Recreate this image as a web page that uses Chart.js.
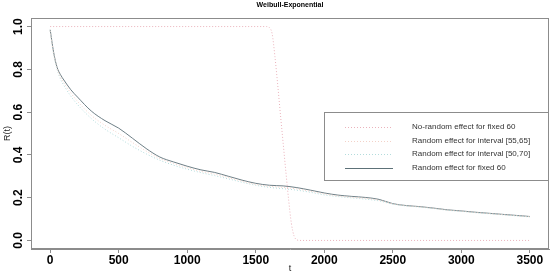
<!DOCTYPE html>
<html>
<head>
<meta charset="utf-8">
<script src="https://cdn.jsdelivr.net/npm/chart.js@4.4.1/dist/chart.umd.min.js"></script>
<style>
html,body{margin:0;padding:0;background:#fff;}
canvas{display:block;}
</style>
</head>
<body>
<canvas id="c" width="550" height="274"></canvas>
<script>
const chartTitle = "Weibull-Exponential";
const xTicks = [0, 500, 1000, 1500, 2000, 2500, 3000, 3500];
const yTicks = [0, 0.2, 0.4, 0.6, 0.8, 1.0];

// time grid for the random-effect curves
const tGrid = [0,25,50,75,100,150,200,300,400,500,600,700,800,900,1000,1100,1200,1300,1400,1500,1600,1700,1800,1900,2000,2100,2200,2300,2400,2500,2600,2700,2800,2900,3000,3100,3200,3300,3400,3500];

const fixed60 = [0.985,0.88,0.81,0.775,0.75,0.705,0.67,0.605,0.56,0.525,0.478,0.43,0.39,0.367,0.347,0.33,0.318,0.30,0.282,0.267,0.258,0.255,0.247,0.235,0.222,0.212,0.206,0.201,0.192,0.172,0.163,0.158,0.151,0.143,0.138,0.132,0.127,0.122,0.117,0.112];
const interval5565 = [0.98,0.875,0.805,0.765,0.737,0.69,0.65,0.585,0.538,0.50,0.458,0.418,0.383,0.36,0.34,0.323,0.31,0.294,0.277,0.262,0.253,0.248,0.241,0.23,0.218,0.208,0.202,0.197,0.188,0.171,0.162,0.157,0.150,0.142,0.137,0.131,0.126,0.121,0.116,0.111];
const interval5070 = [0.98,0.87,0.80,0.755,0.725,0.675,0.635,0.57,0.52,0.48,0.44,0.405,0.375,0.352,0.333,0.317,0.303,0.288,0.272,0.258,0.248,0.242,0.235,0.225,0.213,0.205,0.199,0.193,0.185,0.170,0.161,0.156,0.149,0.141,0.136,0.130,0.125,0.120,0.115,0.110];

// no-random-effect curve (own time grid)
const tNoRandom = [0,500,1000,1500,1580,1600,1620,1640,1660,1680,1700,1720,1740,1760,1780,1800,1820,2000,2500,3000,3500];
const noRandom60 = [1.0,1.0,1.0,1.0,1.0,0.995,0.965,0.86,0.73,0.59,0.455,0.32,0.19,0.08,0.02,0.003,0,0,0,0,0];

const seriesLabels = ["No-random effect for fixed 60","Random effect for interval [55,65]","Random effect for interval [50,70]","Random effect for fixed 60"];
const seriesColors = ["#eab2bb","#f3d2c8","#b3dcdc","#5d7178"];
const seriesDash = [[1,2],[1,2],[1,2],[]];

function pts(xs, ys){ return xs.map((x,i)=>({x:x,y:ys[i]})); }

const frame = {
  id:'frame',
  afterDraw(chart){
    const {ctx, chartArea:a} = chart;
    ctx.save();
    ctx.strokeStyle = '#8c8c8c';
    ctx.lineWidth = 1;
    ctx.strokeRect(a.left+0.5, a.top+0.5, a.right-a.left-1, a.bottom-a.top-1);
    // title
    ctx.fillStyle = '#000';
    ctx.font = 'bold 7px "Liberation Sans", Arial, sans-serif';
    ctx.textAlign = 'center';
    ctx.textBaseline = 'middle';
    ctx.fillText(chartTitle, (a.left+a.right)/2, 5);
    // legend
    const bx = 324, by = 112, bw = a.right - bx, bh = 69;
    ctx.fillStyle = '#fff';
    ctx.fillRect(bx, by, bw, bh);
    ctx.strokeStyle = '#8c8c8c';
    ctx.strokeRect(bx+0.5, by+0.5, bw-1, bh-1);
    ctx.font = '8px "Liberation Sans", Arial, sans-serif';
    ctx.textAlign = 'left';
    const rows = [127, 140.5, 154, 167.5];
    chart.data.datasets.forEach((ds, i) => {
      const y = rows[i];
      ctx.strokeStyle = ds.borderColor;
      ctx.lineWidth = 1;
      ctx.setLineDash(ds.borderDash || []);
      ctx.beginPath();
      ctx.moveTo(345, Math.round(y)+0.5);
      ctx.lineTo(393, Math.round(y)+0.5);
      ctx.stroke();
      ctx.setLineDash([]);
      ctx.fillStyle = '#333';
      ctx.fillText(ds.label, 412, y);
    });
    ctx.restore();
  }
};

const curveT = [tNoRandom, tGrid, tGrid, tGrid];
const curveV = [noRandom60, interval5565, interval5070, fixed60];

new Chart(document.getElementById('c'), {
  type: 'line',
  data: {
    datasets: seriesLabels.map((lab, i) => ({
      label: lab,
      data: pts(curveT[i], curveV[i]),
      borderColor: seriesColors[i],
      borderWidth: i === 3 ? 0.9 : 1,
      borderDash: seriesDash[i],
      pointRadius: 0,
      cubicInterpolationMode: 'monotone',
      fill: false
    }))
  },
  options: {
    responsive: false,
    animation: false,
    devicePixelRatio: 1,
    layout: { padding: { top: 18, right: 1, left: 0, bottom: 0 } },
    plugins: { legend: { display: false }, tooltip: { enabled: false } },
    scales: {
      x: {
        type: 'linear',
        min: -140, max: 3640,
        afterBuildTicks: s => { s.ticks = xTicks.map(v => ({ value: v })); },
        afterFit: s => { s.height = 25; },
        grid: { drawOnChartArea: false, drawTicks: true, tickLength: 4, tickColor: '#8c8c8c' },
        border: { display: true, color: '#8c8c8c' },
        ticks: { color: '#000', padding: 0, maxRotation: 0,
          callback: v => String(v),
          font: { family: '"Liberation Sans", Arial, sans-serif', size: 12, weight: 'bold' } },
        title: { display: true, text: 't', color: '#222', padding: 0, font: { family: '"Liberation Sans", Arial, sans-serif', size: 9 } }
      },
      y: {
        type: 'linear',
        min: -0.04, max: 1.04,
        afterBuildTicks: s => { s.ticks = yTicks.map(v => ({ value: v })); },
        afterFit: s => { s.width = 31; },
        grid: { drawOnChartArea: false, drawTicks: true, tickLength: 4, tickColor: '#8c8c8c' },
        border: { display: true, color: '#8c8c8c' },
        ticks: { color: '#000', padding: 0, minRotation: 90, maxRotation: 90, crossAlign: 'center',
          callback: v => v.toFixed(1),
          font: { family: '"Liberation Sans", Arial, sans-serif', size: 12, weight: 'bold' } },
        title: { display: true, text: 'R(t)', color: '#222', padding: { top: 2, bottom: 0 }, font: { family: '"Liberation Sans", Arial, sans-serif', size: 9 } }
      }
    }
  },
  plugins: [frame]
});
</script>
</body>
</html>
